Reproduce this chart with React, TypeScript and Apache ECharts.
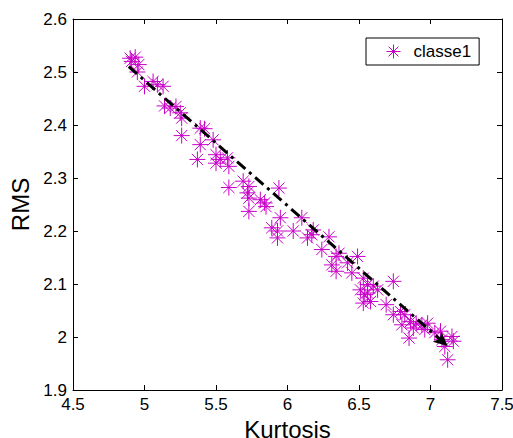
import React, { useEffect, useRef } from "react";
import * as echarts from "echarts";

const kurtosis = [
  4.9, 4.935, 4.91, 4.96, 4.95, 5.0, 5.06, 5.09, 5.13, 5.14, 5.18, 5.22, 5.25, 5.26, 5.26,
  5.39, 5.42, 5.39, 5.48, 5.37, 5.5, 5.53, 5.58, 5.5, 5.59, 5.59, 5.69, 5.73, 5.72, 5.73,
  5.73, 5.81, 5.84, 5.85, 5.94, 5.95, 5.89, 5.93, 5.93, 6.04, 6.1, 6.14, 6.17, 6.18, 6.24,
  6.29, 6.36, 6.34, 6.31, 6.34, 6.42, 6.45, 6.49, 6.53, 6.51, 6.54, 6.53, 6.56, 6.58, 6.56,
  6.6, 6.63, 6.69, 6.74, 6.74, 6.79, 6.82, 6.8, 6.86, 6.85, 6.9, 6.88, 6.94, 6.98, 6.96,
  7.03, 7.07, 7.08, 7.1, 7.16, 7.12, 7.15,
];
const rms = [
  2.526, 2.528, 2.52, 2.514, 2.5, 2.473, 2.482, 2.476, 2.473, 2.436, 2.432, 2.435, 2.423, 2.413, 2.38,
  2.394, 2.393, 2.363, 2.372, 2.335, 2.344, 2.335, 2.338, 2.328, 2.322, 2.282, 2.294, 2.284, 2.272, 2.262,
  2.237, 2.259, 2.253, 2.246, 2.281, 2.225, 2.206, 2.2, 2.187, 2.2, 2.225, 2.187, 2.193, 2.202, 2.165,
  2.189, 2.158, 2.152, 2.136, 2.124, 2.14, 2.121, 2.152, 2.111, 2.089, 2.08, 2.064, 2.083, 2.067, 2.099,
  2.096, 2.089, 2.061, 2.105, 2.042, 2.048, 2.042, 2.023, 2.029, 1.998, 2.026, 2.017, 2.023, 2.026, 2.014,
  2.008, 2.011, 1.995, 1.982, 1.992, 1.957, 2.001,
];
const trendStart = [4.89, 2.51];
const trendEnd = [7.12, 1.983];
const seriesName = "classe1";
const xTitle = "Kurtosis";
const yTitle = "RMS";

const STAR = "path://M0,-10 L0,10 M-10,0 L10,0 M-7,-7 L7,7 M-7,7 L7,-7";
const MAG = "#c800c8";
const FONT = "Liberation Sans, Arial, sans-serif";

export default function App() {
  const ref = useRef<HTMLDivElement>(null);
  useEffect(() => {
    const chart = echarts.init(ref.current!, null, { renderer: "svg" });
    const axisCommon = {
      type: "value" as const,
      axisLine: { show: true, onZero: false, lineStyle: { color: "#000", width: 1 } },
      axisTick: { show: true, inside: true, length: 5, lineStyle: { color: "#000" } },
      splitLine: { show: false },
    };
    chart.setOption({
      animation: false,
      backgroundColor: "#fff",
      grid: { left: 73, right: 11, top: 19, bottom: 48, containLabel: false, outerBoundsMode: "none" },
      xAxis: [
        {
          ...axisCommon,
          min: 4.5,
          max: 7.5,
          interval: 0.5,
          position: "bottom",
          name: xTitle,
          nameLocation: "middle",
          nameGap: 34,
          nameTextStyle: { fontFamily: FONT, fontSize: 24, color: "#000", verticalAlign: "middle" },
          axisLabel: {
            fontFamily: FONT,
            fontSize: 17,
            color: "#000",
            margin: 14,
            verticalAlign: "middle",
            showMaxLabel: true,
            showMinLabel: true,
          },
        },
        {
          ...axisCommon,
          min: 4.5,
          max: 7.5,
          interval: 0.5,
          position: "top",
          axisLabel: { show: false },
        },
      ],
      yAxis: [
        {
          ...axisCommon,
          min: 1.9,
          max: 2.6,
          interval: 0.1,
          position: "left",
          name: yTitle,
          nameLocation: "middle",
          nameGap: 48,
          nameTextStyle: { fontFamily: FONT, fontSize: 24, color: "#000", verticalAlign: "middle" },
          axisLabel: {
            fontFamily: FONT,
            fontSize: 17,
            color: "#000",
            margin: 6,
            formatter: (v: number) => String(Math.round(v * 10) / 10),
          },
        },
        {
          ...axisCommon,
          min: 1.9,
          max: 2.6,
          interval: 0.1,
          position: "right",
          axisLabel: { show: false },
        },
      ],
      legend: {
        show: true,
        left: 366,
        top: 38,
        orient: "vertical",
        borderColor: "#000",
        borderWidth: 1,
        padding: [5, 8, 5, 20],
        itemWidth: 14,
        itemHeight: 14,
        itemGap: 0,
        textStyle: { fontFamily: FONT, fontSize: 17, color: "#000", padding: [0, 0, 0, 8] },
        data: [
          {
            name: seriesName,
            icon: STAR,
            itemStyle: { color: "transparent", borderColor: MAG, borderWidth: 1 },
          },
        ],
      },
      series: [
        {
          name: seriesName,
          type: "scatter",
          symbol: STAR,
          symbolSize: 16,
          itemStyle: { color: "transparent", borderColor: MAG, borderWidth: 1, opacity: 1 },
          data: kurtosis.map((k, i) => [k, rms[i]]),
          markLine: {
            silent: true,
            symbol: ["none", "arrow"],
            symbolSize: [10, 14],
            label: { show: false },
            lineStyle: { color: "#000", width: 3, type: [11, 5, 3, 5] },
            data: [
              [
                { coord: trendStart, symbol: "none" },
                { coord: trendEnd, symbol: "arrow" },
              ],
            ],
          },
        },
      ],
    });
    return () => chart.dispose();
  }, []);
  return <div ref={ref} style={{ width: 513, height: 438, position: "absolute", left: 0, top: 0 }} />;
}
